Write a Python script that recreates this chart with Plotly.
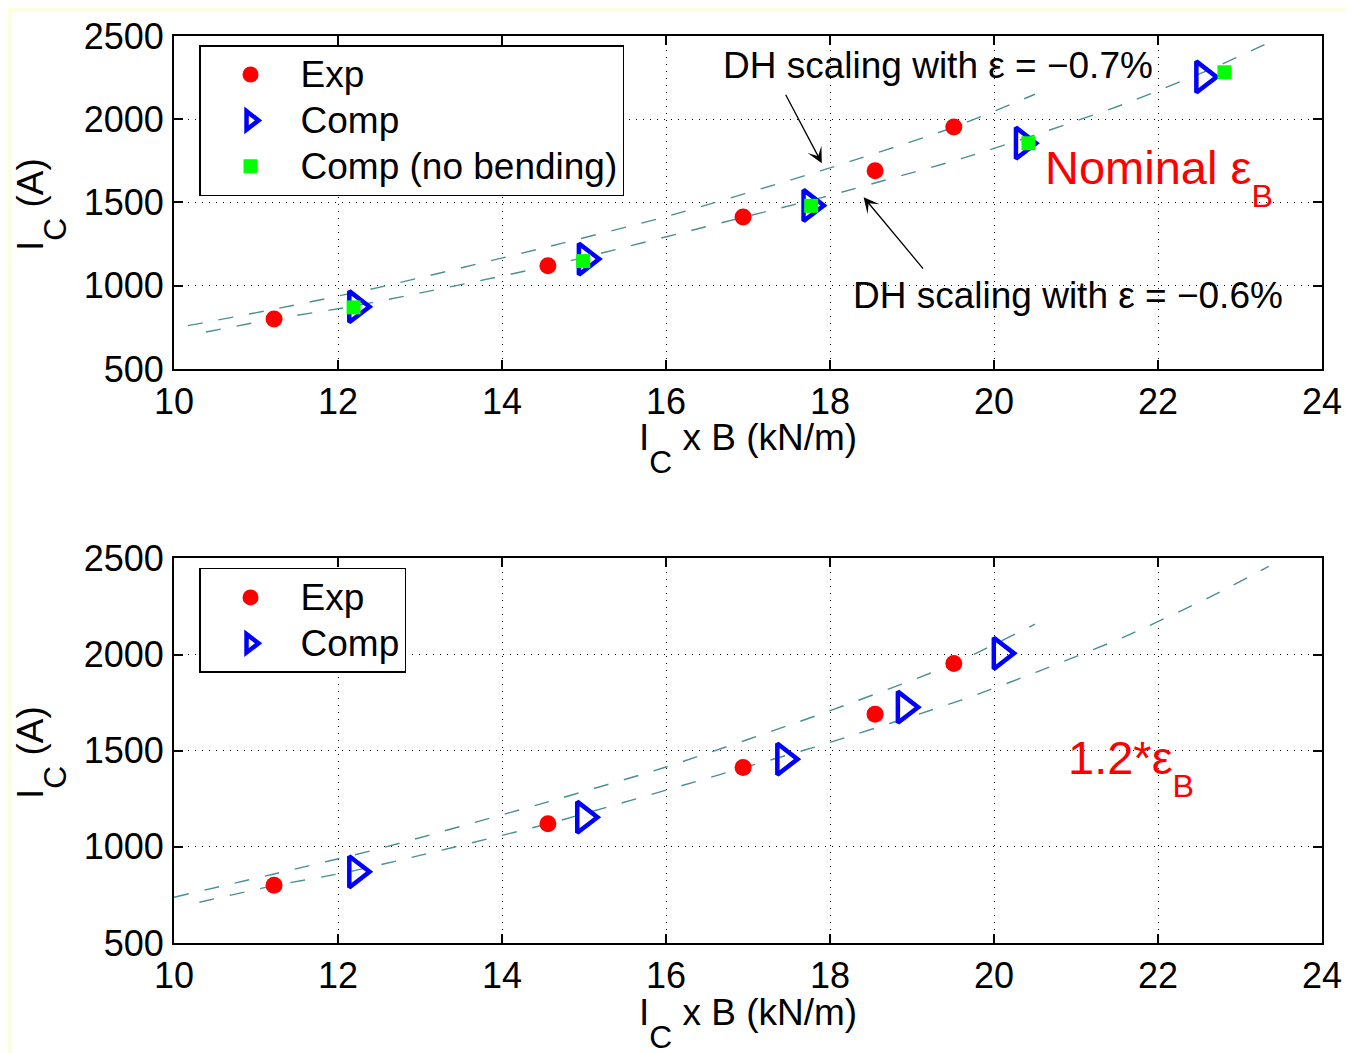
import plotly.graph_objects as go

# ---------------- data ----------------
exp_x = [11.22, 14.56, 16.94, 18.55, 19.51]
exp_y = [800, 1120, 1413, 1690, 1953]

comp_top_x = [12.22, 15.02, 17.76, 20.35, 22.55]
comp_top_y = [874, 1160, 1482, 1856, 2254]

nobend_x = [12.19, 14.99, 17.77, 20.42, 22.81]
nobend_y = [870, 1148, 1480, 1856, 2282]

comp_bot_x = [12.22, 15.00, 17.44, 18.91, 20.08]
comp_bot_y = [870, 1154, 1456, 1726, 2006]

# DH scaling curves
dh07_top_x = [10.17, 11.22, 12.5, 14.56, 16.0, 17.91, 19.51, 20.5]
dh07_top_y = [760, 859, 990, 1234, 1415, 1694, 1952, 2150]
dh06_top_x = [10.39, 11.22, 12.2, 14.56, 16.95, 17.91, 19.6, 20.51, 21.59, 22.65, 23.35]
dh06_top_y = [722, 800, 878, 1118, 1412, 1531, 1763, 1907, 2092, 2302, 2460]

dh07_bot_x = [10.0, 11.22, 12.5, 14.56, 16.0, 17.91, 19.51, 20.5]
dh07_bot_y = [738, 859, 990, 1234, 1415, 1694, 1952, 2158]
dh06_bot_x = [10.31, 11.22, 12.2, 14.56, 16.95, 17.91, 19.6, 20.51, 21.59, 22.65, 23.35]
dh06_bot_y = [712, 798, 876, 1120, 1412, 1531, 1763, 1907, 2092, 2302, 2458]

x_ticks = [10, 12, 14, 16, 18, 20, 22, 24]
y_ticks = [500, 1000, 1500, 2000, 2500]

FONT = "Liberation Sans, Arial, Helvetica, sans-serif"
DASHC = "#4a9090"
DASH = "15px,16px"

def big(s, px=37):
    return "<span style='font-size:%dpx'>%s</span>" % (px, s)

def lowsub(s, scale):
    # large, deeply lowered subscript (MATLAB style)
    return "<span style='font-size:%d%%'><sub><sub>%s</sub></sub></span>" % (scale, s)

fig = go.Figure()

def curve(x, y, xa, ya):
    fig.add_trace(go.Scatter(x=x, y=y, mode="lines", xaxis=xa, yaxis=ya,
                             line=dict(color=DASHC, width=1.4, dash=DASH, shape="spline", smoothing=0.6),
                             showlegend=False, hoverinfo="skip"))

curve(dh07_top_x, dh07_top_y, "x", "y")
curve(dh06_top_x, dh06_top_y, "x", "y")
curve(dh07_bot_x, dh07_bot_y, "x2", "y2")
curve(dh06_bot_x, dh06_bot_y, "x2", "y2")

TRI = dict(symbol="triangle-right-open", size=27, color="#0000ff", line=dict(width=4.5, color="#0000ff"))

# top panel markers
fig.add_trace(go.Scatter(x=exp_x, y=exp_y, mode="markers", name=big("Exp"), xaxis="x", yaxis="y",
                         marker=dict(symbol="circle", size=17, color="#ff0000", line=dict(width=0)),
                         legend="legend"))
fig.add_trace(go.Scatter(x=comp_top_x, y=comp_top_y, mode="markers", name=big("Comp"), xaxis="x", yaxis="y",
                         marker=TRI, legend="legend"))
fig.add_trace(go.Scatter(x=nobend_x, y=nobend_y, mode="markers", name=big("Comp (no bending)"), xaxis="x", yaxis="y",
                         marker=dict(symbol="square", size=14, color="#00ff00", line=dict(width=0)),
                         legend="legend"))

# bottom panel markers
fig.add_trace(go.Scatter(x=exp_x, y=exp_y, mode="markers", name=big("Exp"), xaxis="x2", yaxis="y2",
                         marker=dict(symbol="circle", size=17, color="#ff0000", line=dict(width=0)),
                         legend="legend2"))
fig.add_trace(go.Scatter(x=comp_bot_x, y=comp_bot_y, mode="markers", name=big("Comp"), xaxis="x2", yaxis="y2",
                         marker=TRI, legend="legend2"))

axis_common = dict(
    showline=True, linecolor="black", linewidth=2, mirror="ticks",
    ticks="inside", ticklen=9, tickwidth=1.5, tickcolor="black",
    showgrid=True, gridcolor="black", gridwidth=1, griddash="1px,6px",
    zeroline=False, automargin=False, tickfont=dict(family=FONT, size=36, color="black"),
)

LEG = dict(xanchor="left", yanchor="top", bgcolor="white", bordercolor="black", borderwidth=1.5,
           font=dict(family=FONT, size=33, color="black"), itemwidth=90, tracegroupgap=0)

fig.update_layout(
    width=1337, height=1045,
    margin=dict(l=166, r=23, t=28, b=110, autoexpand=False),
    paper_bgcolor="#fdfde0", plot_bgcolor="white",
    font=dict(family=FONT, color="black"),
    xaxis=dict(domain=[0, 1], anchor="y", range=[10, 24], tickvals=x_ticks, ticklabelstandoff=0, **axis_common),
    yaxis=dict(domain=[0.6329, 1], anchor="x", range=[500, 2500], tickvals=y_ticks, ticklabelstandoff=1, **axis_common),
    xaxis2=dict(domain=[0, 1], anchor="y2", range=[10, 24], tickvals=x_ticks, ticklabelstandoff=0, **axis_common),
    yaxis2=dict(domain=[0, 0.4241], anchor="x2", range=[500, 2500], tickvals=y_ticks, ticklabelstandoff=1, **axis_common),
    legend=dict(x=0.0218, y=0.990, **LEG),
    legend2=dict(x=0.0218, y=0.4135, **LEG),
    showlegend=True,
)

# pale-yellow frame: white sheet over pale yellow paper
fig.add_shape(type="rect", xref="paper", yref="paper", x0=-0.141, x1=1.1, y0=-0.3, y1=1.0265,
              fillcolor="white", line=dict(width=0), layer="below")

TXT = dict(size=37, family=FONT, color="black")
ann = []
xtitle = "I" + lowsub("C", 175) + " x B (kN/m)"
ytitle = "I" + lowsub("C", 175) + " (A)"
# axis titles
ann.append(dict(text=xtitle, xref="paper", yref="paper", x=0.5, y=0.5447,
                showarrow=False, font=TXT, xanchor="center", yanchor="middle"))
ann.append(dict(text=xtitle, xref="paper", yref="paper", x=0.5, y=-0.0893,
                showarrow=False, font=TXT, xanchor="center", yanchor="middle"))
ann.append(dict(text=ytitle, xref="paper", yref="paper", x=-0.115, y=0.8148, textangle=-90,
                showarrow=False, font=TXT, xanchor="center", yanchor="middle"))
ann.append(dict(text=ytitle, xref="paper", yref="paper", x=-0.115, y=0.2106, textangle=-90,
                showarrow=False, font=TXT, xanchor="center", yanchor="middle"))

# DH scaling labels and arrows
ann.append(dict(text="DH scaling with ε = −0.7%", xref="x", yref="y", x=19.32, y=2324, showarrow=False,
                font=TXT, xanchor="center", yanchor="middle"))
ann.append(dict(text="", xref="x", yref="y", x=17.9, y=1736, ax=17.45, ay=2156, axref="x", ayref="y",
                showarrow=True, arrowhead=3, arrowsize=2, arrowwidth=1.3, arrowcolor="black"))
ann.append(dict(text="DH scaling with ε = −0.6%", xref="x", yref="y", x=20.9, y=944, showarrow=False,
                font=TXT, xanchor="center", yanchor="middle"))
ann.append(dict(text="", xref="x", yref="y", x=18.41, y=1532, ax=19.15, ay=1094, axref="x", ayref="y",
                showarrow=True, arrowhead=3, arrowsize=2, arrowwidth=1.3, arrowcolor="black"))

# panel labels
ann.append(dict(text="Nominal ε" + lowsub("B", 140), xref="x", yref="y", x=20.6, y=1650, showarrow=False,
                font=dict(size=47, family=FONT, color="#ff0000"), xanchor="left", yanchor="middle"))
ann.append(dict(text="1.2*ε" + lowsub("B", 140), xref="x2", yref="y2", x=20.88, y=1414, showarrow=False,
                font=dict(size=47, family=FONT, color="#ff0000"), xanchor="left", yanchor="middle"))

fig.update_layout(annotations=ann)

fig.write_html("out.html")
